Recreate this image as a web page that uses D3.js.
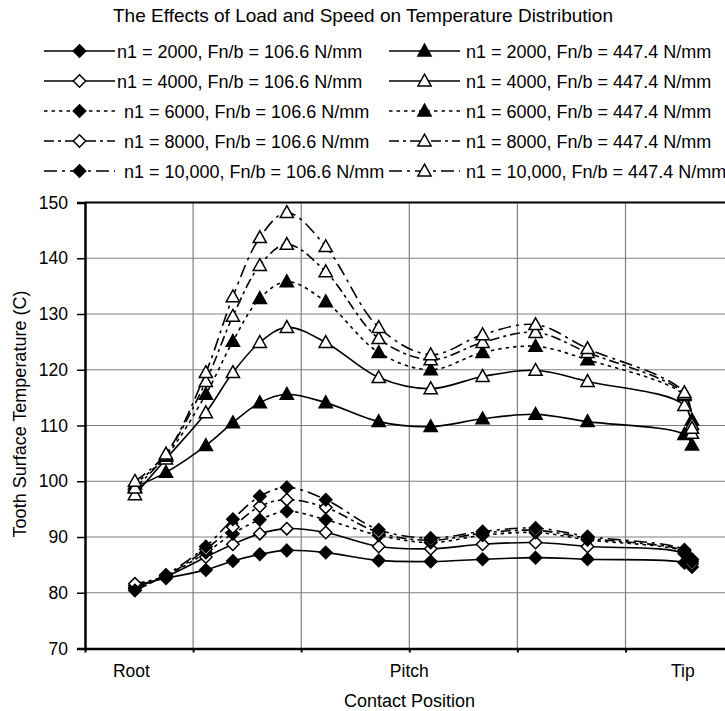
<!DOCTYPE html>
<html><head><meta charset="utf-8">
<script src="https://cdn.jsdelivr.net/npm/d3@7"></script>
<style>
body{margin:0;background:#fff}
svg{display:block}
text{font-family:"Liberation Sans",Arial,Helvetica,sans-serif;fill:#000}
</style>
</head><body>
<svg id="chart" width="725" height="711"></svg>
<script>
// ---- data ----
const positions = [0.462, 0.749, 1.118, 1.368, 1.617, 1.867, 2.227, 2.717, 3.198, 3.678, 4.168, 4.649, 5.545, 5.615];

const low_n2000  = [81.3, 82.6, 84.1, 85.7, 86.9, 87.6, 87.2, 85.8, 85.6, 86.0, 86.3, 86.0, 85.4, 84.6];
const low_n4000  = [81.0, 82.9, 86.4, 88.7, 90.6, 91.5, 90.8, 88.3, 87.9, 88.7, 89.0, 88.3, 87.0, 85.2];
const low_n6000  = [80.7, 83.0, 87.2, 90.6, 93.1, 94.6, 93.1, 90.3, 89.0, 90.3, 90.8, 89.5, 87.3, 85.6];
const low_n8000  = [81.6, 83.1, 87.8, 91.8, 95.5, 96.7, 95.3, 90.8, 89.4, 90.7, 91.2, 89.8, 87.5, 86.0];
const low_n10000 = [80.4, 83.2, 88.3, 93.2, 97.3, 98.9, 96.7, 91.3, 89.8, 91.0, 91.6, 90.1, 87.7, 85.9];

const high_n2000  = [99.0, 101.6, 106.4, 110.5, 114.1, 115.6, 114.1, 110.7, 109.8, 111.2, 112.0, 110.7, 108.4, 106.5];
const high_n4000  = [97.6, 104.0, 112.3, 119.5, 124.9, 127.6, 124.9, 118.6, 116.6, 118.8, 119.9, 117.9, 113.6, 108.6];
const high_n6000  = [99.5, 104.5, 115.6, 125.1, 132.8, 135.8, 132.2, 123.1, 120.0, 123.1, 124.2, 121.8, 115.4, 111.0];
const high_n8000  = [98.8, 104.7, 117.9, 129.6, 138.7, 142.5, 137.6, 125.6, 121.8, 124.9, 126.7, 123.1, 115.6, 110.2];
const high_n10000 = [100.0, 104.9, 119.5, 133.1, 143.7, 148.2, 142.1, 127.6, 122.7, 126.3, 128.1, 123.8, 115.9, 109.5];

const speedLabels = ["2000", "4000", "6000", "8000", "10,000"];
const loadLabels = ["106.6", "447.4"];
const yTicks = [70, 80, 90, 100, 110, 120, 130, 140, 150];
const xGrid = [0, 1, 2, 3, 4, 5, 6];
const xLabels = ["Root", "Pitch", "Tip"];
const xLabelPos = [0.43, 3.0, 5.53];
const chartTitle = "The Effects of Load and Speed on Temperature Distribution";
const yTitle = "Tooth Surface Temperature (C)";
const xTitle = "Contact Position";

(function () {
// ---- styles ----
const dashes = [null, null, "3.5,4", "10,4,3,4", "13,5,3,5"];
const lowFill = ["#000", "#fff", "#000", "#fff", "#000"];
const highFill = ["#000", "#fff", "#000", "#fff", "#fff"];
const diamondPath = "M0,-6.2L6.2,0L0,6.2L-6.2,0Z";
const trianglePath = "M0,-6.8L6.6,5L-6.6,5Z";

const lowData = [low_n2000, low_n4000, low_n6000, low_n8000, low_n10000];
const highData = [high_n2000, high_n4000, high_n6000, high_n8000, high_n10000];

const series = [];
lowData.forEach((vals, i) => series.push({
  name: `n1 = ${speedLabels[i]}, Fn/b = ${loadLabels[0]} N/mm`,
  pts: vals.map((v, j) => ({x: positions[j], y: v})),
  dash: dashes[i], fill: lowFill[i], shape: diamondPath, col: 0, row: i
}));
highData.forEach((vals, i) => series.push({
  name: `n1 = ${speedLabels[i]}, Fn/b = ${loadLabels[1]} N/mm`,
  pts: vals.map((v, j) => ({x: positions[j], y: v})),
  dash: dashes[i], fill: highFill[i], shape: trianglePath, col: 1, row: i
}));

// ---- layout ----
const svg = d3.select("#chart");
const pLeft = 85, pTop = 202.5, pBottom = 648.5;
const x = d3.scaleLinear().domain([0, 6]).range([pLeft, pLeft + 6 * 108.1]);
const y = d3.scaleLinear().domain([70, 150]).range([pBottom, pTop]);

// gridlines
svg.append("g").selectAll("line").data(yTicks.slice(1, -1)).join("line")
  .attr("x1", x(0)).attr("x2", x(6)).attr("y1", d => y(d)).attr("y2", d => y(d))
  .attr("stroke", "#808080").attr("stroke-width", 1.2);
svg.append("g").selectAll("line").data(xGrid.slice(1)).join("line")
  .attr("x1", d => x(d)).attr("x2", d => x(d)).attr("y1", y(150)).attr("y2", y(70))
  .attr("stroke", "#808080").attr("stroke-width", 1.2);

// top border
svg.append("line").attr("x1", x(0)).attr("x2", x(6)).attr("y1", y(150)).attr("y2", y(150))
  .attr("stroke", "#000").attr("stroke-width", 2);

// series lines
const line = d3.line().x(d => x(d.x)).y(d => y(d.y)).curve(d3.curveCatmullRom.alpha(0.5));
svg.append("g").selectAll("path").data(series).join("path")
  .attr("d", d => line(d.pts)).attr("fill", "none").attr("stroke", "#000")
  .attr("stroke-width", 1.6).attr("stroke-dasharray", d => d.dash);

// markers
series.forEach(s => {
  svg.append("g").selectAll("path").data(s.pts).join("path")
    .attr("d", s.shape).attr("transform", d => `translate(${x(d.x)},${y(d.y)})`)
    .attr("fill", s.fill).attr("stroke", "#000").attr("stroke-width", 1.5);
});

// axes
const yAxis = svg.append("g").attr("transform", `translate(${pLeft},0)`)
  .call(d3.axisLeft(y).tickValues(yTicks).tickSize(8).tickPadding(9).tickFormat(d3.format("d")));
yAxis.select(".domain").attr("stroke", "#000").attr("stroke-width", 2.5);
yAxis.selectAll(".tick line").attr("stroke", "#000").attr("stroke-width", 1.5);
yAxis.selectAll(".tick text").attr("font-size", 17.5).attr("font-family", "Liberation Sans, Arial, sans-serif").attr("fill", "#000");

const xAxis = svg.append("g").attr("transform", `translate(0,${pBottom})`)
  .call(d3.axisBottom(x).tickValues(xGrid).tickSize(4).tickSizeOuter(0).tickFormat(""));
xAxis.select(".domain").attr("stroke", "#000").attr("stroke-width", 2.5);
xAxis.selectAll(".tick line").attr("stroke", "#000").attr("stroke-width", 2);

// x category labels
svg.append("g").selectAll("text").data(xLabels).join("text")
  .attr("x", (d, i) => x(xLabelPos[i])).attr("y", 676.5)
  .attr("text-anchor", "middle").attr("font-size", 17.5).text(d => d);

// titles
svg.append("text").attr("x", 363).attr("y", 21.5).attr("text-anchor", "middle")
  .attr("font-size", 19).text(chartTitle);
svg.append("text").attr("transform", "translate(26,414) rotate(-90)")
  .attr("text-anchor", "middle").attr("font-size", 18).text(yTitle);
svg.append("text").attr("x", 409.5).attr("y", 707).attr("text-anchor", "middle")
  .attr("font-size", 18).text(xTitle);

// legend
const rowY = [51, 81, 111, 141, 171];
const colLine = [[44, 115], [389, 460]];
const colText = [[117, 117, 124, 124, 124], [466, 466, 466, 466, 466]];
const lg = svg.append("g");
series.forEach(s => {
  const yy = rowY[s.row], [x1, x2] = colLine[s.col];
  lg.append("line").attr("x1", x1).attr("x2", x2).attr("y1", yy).attr("y2", yy)
    .attr("stroke", "#000").attr("stroke-width", 1.7).attr("stroke-dasharray", s.dash);
  lg.append("path").attr("d", s.shape).attr("transform", `translate(${(x1 + x2) / 2},${yy})`)
    .attr("fill", s.fill).attr("stroke", "#000").attr("stroke-width", 1.5);
  lg.append("text").attr("x", colText[s.col][s.row]).attr("y", yy + 6.5)
    .attr("font-size", 18).text(s.name);
});
})();
</script>
</body></html>
